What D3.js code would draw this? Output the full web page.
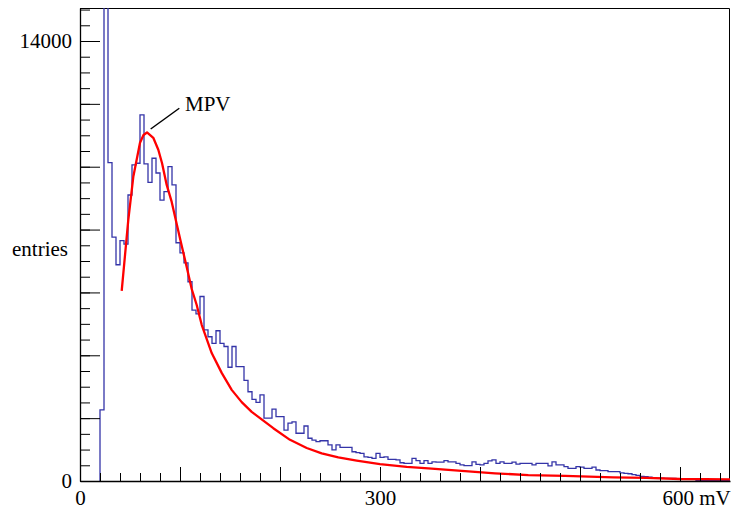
<!DOCTYPE html>
<html>
<head>
<meta charset="utf-8">
<script src="https://cdn.jsdelivr.net/npm/d3@7"></script>
<style>
  body { margin: 0; background: #fff; }
  svg { display: block; }
  text { font-family: "Liberation Serif", "Times New Roman", serif; font-size: 21px; fill: #000; }
</style>
</head>
<body>
<div id="chart"></div>
<script>
// histogram: 4 mV bins starting at 20 mV (lower edges)
var binLow = d3.range(20, 652, 4);
var counts = [
  2260, 30000, 10130, 7760, 6880, 7650, 7540, 9100, 10060, 10110,
  11650, 10090, 9500, 10270, 9800, 8940, 9210, 10000, 9420, 7580,
  7260, 6940, 6340, 5440, 5320, 5870, 4810, 4590, 4380, 4780,
  4380, 4280, 3620, 4280, 3640, 3640, 3200, 2840, 2600, 2500,
  2740, 2000, 2000, 2290, 2050, 2050, 1620, 1840, 1880, 1520,
  1520, 1750, 1360, 1300, 1250, 1280, 1280, 1150, 990, 1150,
  1070, 1070, 1070, 930, 900, 880, 770, 750, 720, 880,
  750, 770, 690, 690, 670, 580, 560, 560, 720, 650,
  560, 650, 560, 610, 600, 600, 650, 610, 610, 560,
  510, 490, 490, 610, 530, 510, 560, 640, 670, 560,
  610, 560, 560, 600, 540, 560, 560, 560, 510, 560,
  560, 560, 480, 610, 510, 510, 460, 400, 400, 460,
  440, 400, 400, 440, 350, 330, 330, 300, 300, 300,
  260, 240, 230, 200, 180, 150, 140, 125, 110, 90,
  90, 86, 86, 86, 70, 60, 55, 55, 55, 15,
  15, 15, 15, 15, 15, 15, 15, 15
];
var binWidth = 4;

// fitted curve (mV, entries)
var fitX = [41.7, 48.3, 53.3, 57, 60, 63.5, 67, 73.3, 78.3, 82, 86.7, 91.7, 96.7, 101, 106.7,
            111.7, 116.7, 121.7, 131.7, 141.7, 151.7, 161.7, 171.7, 180, 193.3, 210, 226.7,
            241.7, 258.3, 276.7, 300, 326.7, 348.3, 381.7, 415, 448.3, 485, 533.3, 566.7, 600, 650];
var fitY = [6050, 8310, 9680, 10280, 10760, 11010, 11090, 10920, 10540, 10120, 9420, 8880, 8180, 7580, 6810,
            6110, 5600, 4970, 4070, 3440, 2900, 2510, 2200, 2000, 1680, 1310, 1050,
            880, 750, 650, 540, 450, 400, 320, 245, 190, 160, 118, 100, 64, 54];

// axes
var xMajor = [0, 100, 200, 300, 400, 500, 600];
var xMinor = d3.range(0, 660, 20);
var xLabels = {0: "0", 300: "300", 600: "600 mV"};
var yMajor = [0, 2000, 4000, 6000, 8000, 10000, 12000, 14000];
var yMinor = d3.range(0, 15001, 500);
var yLabels = {0: "0", 14000: "14000"};

var W = 731, H = 509;
var margin = {top: 8, right: 1, bottom: 28, left: 80};

var svg = d3.select("#chart").append("svg")
    .attr("width", W).attr("height", H);

var x = d3.scaleLinear().domain([0, 650]).range([margin.left, W - margin.right]);
var y = d3.scaleLinear().domain([0, 15050]).range([H - margin.bottom, margin.top]);

svg.append("clipPath").attr("id", "frame")
  .append("rect")
    .attr("x", x(0)).attr("y", y(15050))
    .attr("width", x(650) - x(0)).attr("height", y(0) - y(15050));

// frame top + right
svg.append("path")
    .attr("d", "M" + x(0) + "," + (y(15050) + 0.5) + "H" + (x(650) - 0.5) + "V" + y(0))
    .attr("fill", "none").attr("stroke", "#000").attr("stroke-width", 1);

// histogram outline
var p = "M" + x(binLow[0]) + "," + y(0);
binLow.forEach(function(lo, i) {
    p += "V" + y(counts[i]) + "H" + x(lo + binWidth);
});
p += "V" + y(0);
svg.append("path")
    .attr("d", p)
    .attr("clip-path", "url(#frame)")
    .attr("fill", "none")
    .attr("stroke", "#3434a8")
    .attr("stroke-width", 1.3);

// fit
var line = d3.line()
    .x(function(d, i) { return x(d); })
    .y(function(d, i) { return y(fitY[i]); });
svg.append("path")
    .attr("d", line(fitX))
    .attr("clip-path", "url(#frame)")
    .attr("fill", "none")
    .attr("stroke", "#ff0000")
    .attr("stroke-width", 2.3)
    .attr("stroke-linejoin", "round");

// x axis: minor then major
svg.append("g")
    .attr("transform", "translate(0," + y(0) + ")")
    .call(d3.axisBottom(x).tickValues(xMinor).tickSize(-8).tickSizeOuter(0).tickFormat(""))
    .call(function(g) { g.select(".domain").remove(); });
var gx = svg.append("g")
    .attr("transform", "translate(0," + y(0) + ")")
    .call(d3.axisBottom(x).tickValues(xMajor).tickSize(-14).tickSizeOuter(0).tickPadding(9)
          .tickFormat(function(d) { return xLabels[d] || ""; }));
gx.select(".domain").attr("stroke-width", 1.3);
gx.selectAll("text").attr("font-size", 20).attr("font-family", null);
gx.selectAll(".tick text").filter(function(d) { return d === 600; })
    .attr("text-anchor", "start").attr("x", -18);

// y axis
svg.append("g")
    .attr("transform", "translate(" + x(0) + ",0)")
    .call(d3.axisLeft(y).tickValues(yMinor).tickSize(-10).tickSizeOuter(0).tickFormat(""))
    .call(function(g) { g.select(".domain").remove(); });
var gy = svg.append("g")
    .attr("transform", "translate(" + x(0) + ",0)")
    .call(d3.axisLeft(y).tickValues(yMajor).tickSize(-20).tickSizeOuter(0).tickPadding(8)
          .tickFormat(function(d) { return yLabels[d] || ""; }));
gy.select(".domain").attr("stroke-width", 1.3);
gy.selectAll("text").attr("font-size", 21).attr("font-family", null);

// axis title
svg.append("text")
    .attr("x", 12).attr("y", 256)
    .text("entries");

// MPV annotation
svg.append("line")
    .attr("x1", x(70.7)).attr("y1", y(11200))
    .attr("x2", x(99.3)).attr("y2", y(11860))
    .attr("stroke", "#000").attr("stroke-width", 1.5);
svg.append("text")
    .attr("x", x(105)).attr("y", y(11787))
    .text("MPV");
</script>
</body>
</html>
